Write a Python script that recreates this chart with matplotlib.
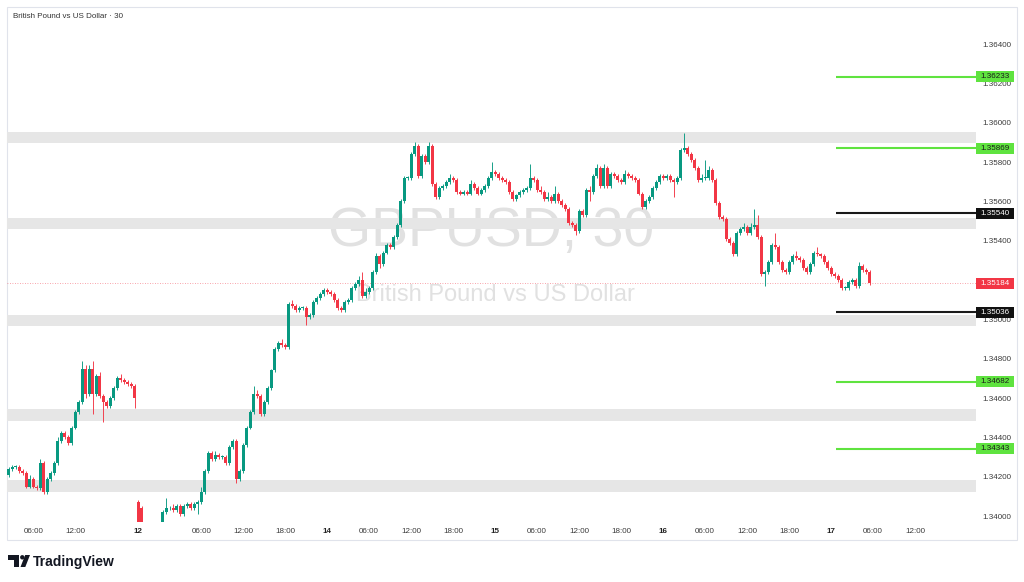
import numpy as np
import matplotlib.pyplot as plt
from matplotlib.patches import Rectangle, Polygon, Circle
import matplotlib.transforms as mtransforms

plt.rcParams['font.family'] = ['Liberation Sans', 'DejaVu Sans']

# GBPUSD 30 min closes, bar by bar
closes = [
    1.3424, 1.3425, 1.3425, 1.3423, 1.3422, 1.3415, 1.3419, 1.3415, 1.3414, 1.3427,
    1.3412, 1.3419, 1.3422, 1.3427, 1.3438, 1.3442, 1.3440, 1.3437, 1.3445, 1.3453,
    1.3458, 1.3475, 1.3462, 1.3475, 1.3462, 1.3471, 1.3461, 1.3458, 1.3456, 1.3460,
    1.3465, 1.3470, 1.3469, 1.3468, 1.3467, 1.3466, 1.3460, 1.3397, 1.3392, 1.3390,
    1.3388, 1.3390, 1.3392, 1.3394, 1.3402, 1.3404, 1.3404, 1.3403, 1.3405, 1.3401,
    1.3405, 1.3406, 1.3404, 1.3406, 1.3407, 1.3412, 1.3423, 1.3432, 1.3429, 1.3431,
    1.3430, 1.3430, 1.3427, 1.3435, 1.3438, 1.3419, 1.3423, 1.3436, 1.3445, 1.3453,
    1.3462, 1.3461, 1.3452, 1.3458, 1.3465, 1.3474, 1.3485, 1.3488, 1.3487, 1.3486,
    1.3508, 1.3507, 1.3505, 1.3506, 1.3506, 1.3501, 1.3502, 1.3509, 1.3511, 1.3513,
    1.3515, 1.3514, 1.3513, 1.3510, 1.3506, 1.3505, 1.3509, 1.3510, 1.3516, 1.3518,
    1.3520, 1.3512, 1.3514, 1.3516, 1.3524, 1.3532, 1.3528, 1.3534, 1.3538, 1.3537,
    1.3542, 1.3548, 1.3560, 1.3572, 1.3572, 1.3584, 1.3588, 1.3573, 1.3583, 1.3580,
    1.3588, 1.3569, 1.3562, 1.3567, 1.3568, 1.3570, 1.3572, 1.3571, 1.3565, 1.3564,
    1.3565, 1.3564, 1.3569, 1.3567, 1.3564, 1.3566, 1.3568, 1.3572, 1.3575, 1.3574,
    1.3572, 1.3571, 1.3570, 1.3565, 1.3561, 1.3563, 1.3565, 1.3566, 1.3567, 1.3572,
    1.3571, 1.3566, 1.3565, 1.3561, 1.3562, 1.3560, 1.3564, 1.3560, 1.3558, 1.3556,
    1.3549, 1.3548, 1.3545, 1.3555, 1.3553, 1.3566, 1.3565, 1.3573, 1.3577, 1.3568,
    1.3577, 1.3568, 1.3574, 1.3573, 1.3571, 1.3570, 1.3574, 1.3573, 1.3572, 1.3571,
    1.3564, 1.3557, 1.3560, 1.3562, 1.3567, 1.3570, 1.3573, 1.3572, 1.3573, 1.3571,
    1.3570, 1.3572, 1.3586, 1.3587, 1.3584, 1.3581, 1.3577, 1.3571, 1.3572, 1.3572,
    1.3576, 1.3571, 1.3559, 1.3552, 1.3551, 1.3541, 1.3539, 1.3533, 1.3544, 1.3546,
    1.3547, 1.3544, 1.3547, 1.3548, 1.3542, 1.3523, 1.3524, 1.3529, 1.3538, 1.3537,
    1.3529, 1.3525, 1.3524, 1.3529, 1.3532, 1.3531, 1.3530, 1.3526, 1.3524, 1.3528,
    1.3534, 1.3533, 1.3532, 1.3529, 1.3526, 1.3523, 1.3522, 1.3520, 1.3516, 1.3516,
    1.3519, 1.3520, 1.3517, 1.3527, 1.3525, 1.3524, 1.35184,
]
first_open = 1.3421
gap_opens = {37: 1.3407, 38: 1.3404}   # weekend gap

# wick lengths in pips
upper_wick = [
    1, 1, 1, 1, 1, 1, 2, 1, 1, 2,  1, 1, 1, 1, 2, 1, 1, 1, 1, 1,
    1, 4, 2, 2, 4, 1, 2, 1, 1, 1,  1, 1, 2, 1, 1, 1, 1, 1, 1, 1,
    1, 1, 1, 1, 1, 5, 1, 2, 1, 1,  1, 1, 1, 1, 1, 3, 1, 1, 1, 2,
    1, 1, 1, 1, 1, 1, 1, 1, 1, 1,  4, 2, 1, 1, 1, 1, 1, 1, 2, 1,
    1, 2, 1, 1, 1, 1, 1, 1, 1, 1,  1, 1, 1, 1, 1, 1, 1, 1, 1, 1,
    2, 4, 2, 1, 1, 2, 1, 1, 1, 1,  1, 1, 1, 1, 1, 1, 2, 1, 1, 1,
    2, 1, 1, 1, 1, 1, 2, 1, 1, 1,  1, 1, 2, 1, 1, 1, 1, 1, 5, 1,
    1, 1, 1, 1, 1, 1, 1, 1, 1, 7,  1, 1, 2, 1, 3, 1, 4, 1, 1, 1,
    1, 1, 1, 1, 1, 1, 2, 1, 2, 1,  2, 1, 1, 1, 1, 1, 2, 1, 1, 1,
    1, 1, 1, 1, 1, 1, 1, 1, 1, 1,  1, 1, 1, 8, 1, 1, 1, 1, 2, 9,
    2, 1, 1, 1, 1, 1, 1, 1, 1, 1,  2, 1, 2, 8, 5, 1, 1, 1, 1, 6,
    1, 1, 1, 1, 1, 3, 1, 1, 1, 1,  1, 3, 1, 1, 1, 1, 1, 1, 1, 1,
    1, 1, 1, 2, 1, 1, 1,
]
lower_wick = [
    1, 1, 1, 1, 1, 1, 1, 1, 1, 1,  1, 1, 1, 1, 1, 1, 1, 1, 1, 1,
    1, 1, 2, 1, 10, 1, 1, 10, 1, 1,  1, 1, 1, 1, 1, 1, 5, 1, 1, 1,
    1, 1, 1, 1, 1, 1, 1, 1, 1, 1,  1, 1, 1, 1, 5, 1, 1, 1, 1, 1,
    1, 1, 1, 1, 1, 2, 1, 1, 1, 1,  1, 1, 1, 1, 1, 1, 1, 1, 1, 1,
    1, 1, 1, 1, 1, 4, 1, 1, 1, 1,  1, 1, 1, 1, 1, 1, 1, 1, 1, 1,
    1, 1, 1, 1, 1, 1, 2, 1, 1, 1,  1, 1, 1, 1, 1, 1, 1, 1, 1, 1,
    1, 1, 1, 1, 1, 1, 1, 1, 1, 1,  1, 1, 1, 1, 1, 1, 1, 1, 1, 1,
    1, 1, 1, 1, 1, 1, 1, 1, 1, 1,  1, 1, 1, 1, 1, 1, 1, 1, 1, 1,
    1, 1, 2, 1, 1, 1, 5, 1, 1, 1,  1, 1, 1, 1, 1, 1, 1, 1, 1, 1,
    1, 1, 1, 1, 1, 1, 1, 1, 1, 1,  8, 1, 1, 1, 1, 1, 1, 1, 1, 1,
    1, 1, 1, 1, 1, 1, 1, 1, 1, 1,  1, 1, 1, 1, 1, 1, 6, 1, 1, 1,
    1, 1, 1, 1, 1, 1, 1, 1, 1, 1,  1, 1, 1, 1, 1, 1, 1, 1, 1, 1,
    1, 1, 1, 1, 1, 1, 1,
]

# time axis labels (bar index, text)
tick_bars = [7, 19, 37, 55, 67, 79, 91, 103, 115, 127, 139, 151, 163, 175,
             187, 199, 211, 223, 235, 247, 259]
tick_text = ['06:00', '12:00', '12', '06:00', '12:00', '18:00', '14', '06:00',
             '12:00', '18:00', '15', '06:00', '12:00', '18:00', '16', '06:00',
             '12:00', '18:00', '17', '06:00', '12:00']

# 1.352 sits under the last-price tag, so it is not shown
price_ticks = [1.340, 1.342, 1.344, 1.346, 1.348, 1.350, 1.354,
               1.356, 1.358, 1.360, 1.362, 1.364]

zones = [(1.35897, 1.35953), (1.35460, 1.35515), (1.34966, 1.35022),
         (1.34483, 1.34544), (1.34122, 1.34183)]
green_levels = [1.36233, 1.35869, 1.34682, 1.34343]
black_levels = [1.35540, 1.35036]
last_price = 1.35184
level_start = 236.4

UP = '#089981'
DOWN = '#f23645'
LIME = '#5fe33f'

c = np.array(closes)
o = np.r_[first_open, c[:-1]]
for k, v in gap_opens.items():
    o[k] = v
h = np.maximum(o, c) + np.array(upper_wick) / 1e4
l = np.minimum(o, c) - np.array(lower_wick) / 1e4
x = np.arange(len(c))
cols = np.where(c >= o, UP, DOWN)

fig = plt.figure(figsize=(10.24, 5.82), dpi=100)
fig.patch.set_facecolor('white')

# pane frame + logo layer in pixel coords
lay = fig.add_axes([0, 0, 1, 1], zorder=0)
lay.set_xlim(0, 1024)
lay.set_ylim(582, 0)
lay.axis('off')
lay.add_patch(Rectangle((7, 7), 1010, 533, fill=False, ec='#e0e3eb', lw=0.8))
# TradingView logo
lay.add_patch(Rectangle((8, 555), 11, 4.5, fc='#131722', ec='none'))
lay.add_patch(Rectangle((14, 555), 5, 12, fc='#131722', ec='none'))
lay.add_patch(Circle((22.3, 557.3), 2.2, fc='#131722', ec='none'))
lay.add_patch(Polygon([(20.5, 567), (25.3, 567), (30, 555), (25.2, 555)],
                      closed=True, fc='#131722', ec='none'))
lay.text(33, 562, 'TradingView', fontsize=10, fontweight='bold',
         color='#131722', va='center', ha='left')

ax = fig.add_axes([7 / 1024, 1 - 522 / 582, 969 / 1024, 515 / 582], zorder=1)
ax.set_facecolor('none')
ax.set_xlim(-0.49, 276.4)
ax.set_ylim(1.339696, 1.365884)
for s in ax.spines.values():
    s.set_visible(False)

# watermark
ax.text(0.4999, 0.535, 'GBPUSD, 30', transform=ax.transAxes, fontsize=40,
        color='#e1e1e1', ha='center', va='baseline', zorder=0)
ax.text(0.504, 0.43, 'British Pound vs US Dollar', transform=ax.transAxes,
        fontsize=17, color='#e1e1e1', ha='center', va='baseline', zorder=0)

for lo, hi in zones:
    ax.axhspan(lo, hi, color='#e6e6e6', lw=0, zorder=1)

ax.axhline(last_price, color=DOWN, lw=0.6, ls=(0, (1, 2)), alpha=0.6, zorder=1.5)

ax.vlines(x, l, h, colors=cols, lw=0.65, zorder=2)
ax.bar(x, np.maximum(np.abs(c - o), 0.00003), bottom=np.minimum(o, c),
       width=0.8, color=cols, lw=0, zorder=3)

xmax = ax.get_xlim()[1]
for lv in green_levels:
    ax.plot([level_start, xmax], [lv, lv], color=LIME, lw=1.5, zorder=4,
            solid_capstyle='butt')
for lv in black_levels:
    ax.plot([level_start, xmax], [lv, lv], color='#1a1a1a', lw=1.5, zorder=4,
            solid_capstyle='butt')

ax.yaxis.tick_right()
ax.set_yticks(price_ticks)
ax.set_yticklabels([f'{p:.5f}' for p in price_ticks])
ax.tick_params(axis='y', length=0, pad=4.3, labelsize=5.8, labelcolor='#3a3a3a')
ax.set_xticks(tick_bars)
ax.set_xticklabels(tick_text)
ax.tick_params(axis='x', length=0, pad=4.0, labelsize=5.8, labelcolor='#3a3a3a')
for t in ax.get_xticklabels():
    if ':' not in t.get_text():
        t.set_fontweight('bold')
        t.set_color('#222222')

# price labels on the scale
trans = mtransforms.blended_transform_factory(ax.transAxes, ax.transData)
box_w = 38 / 969
box_h = 11 / 19667
tags = [(p, LIME, '#1a1a1a') for p in green_levels] + \
       [(p, '#111111', 'white') for p in black_levels] + \
       [(last_price, DOWN, 'white')]
for p, fc, tc in tags:
    ax.add_patch(Rectangle((1.0, p - box_h / 2), box_w, box_h, transform=trans,
                           fc=fc, ec='none', clip_on=False, zorder=6))
    ax.text(1.0 + box_w / 2, p, f'{p:.5f}', transform=trans, fontsize=5.8,
            color=tc, ha='center', va='center', zorder=7, clip_on=False)

fig.text(13 / 1024, 1 - 17 / 582, 'British Pound vs US Dollar \u00b7 30',
         fontsize=5.8, color='#333333', ha='left', va='center')

fig.savefig('out.png', dpi=100, facecolor='white')
